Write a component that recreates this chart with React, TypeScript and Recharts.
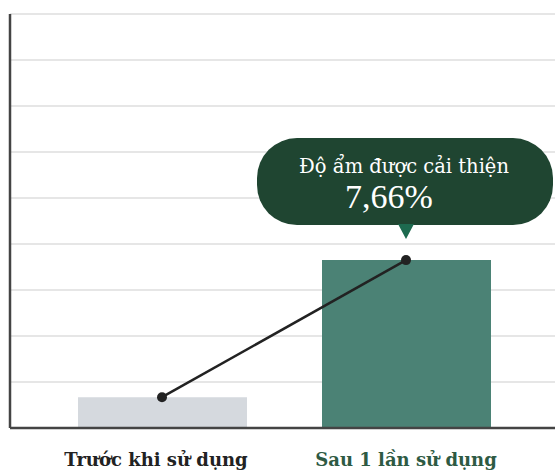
import React from "react";
import { ComposedChart, Bar, Line, XAxis, YAxis, CartesianGrid, Cell } from "recharts";

const categories = ["Trước khi sử dụng", "Sau 1 lần sử dụng"];
const barValues = [0.67, 3.65];
const lineValues = [0.67, 3.65];
const yTicks = [0, 1, 2, 3, 4, 5, 6, 7, 8];
const barColors = ["#d5d9de", "#4b8275"];
const labelColors = ["#222222", "#2e5a43"];
const labelShift = [-6, 0];
const calloutTitle = "Độ ẩm được cải thiện";
const calloutValue = "7,66%";

const data = categories.map((c, i) => ({ name: c, bar: barValues[i], line: lineValues[i] }));

const SERIF = "'DejaVu Serif', serif";
const SERIF2 = "'Liberation Serif', serif";

const Tick = (props: any) => {
  const { x, y, payload, index } = props;
  return (
    <text
      x={x + (labelShift[index] ?? 0)}
      y={y + 30}
      textAnchor="middle"
      fontFamily={SERIF}
      fontWeight={700}
      fontSize={18}
      fill={labelColors[index] ?? "#222"}
    >
      {payload.value}
    </text>
  );
};

const EmptyTick = () => <g />;

const Callout = (props: any) => {
  const { x, y, index } = props;
  if (index !== 1) return null;
  return (
    <g>
      <rect x={x - 149} y={y - 122} width={296} height={87} rx={40} ry={40} fill="#1f4531" />
      <path d={`M ${x - 8} ${y - 36} L ${x + 8} ${y - 36} L ${x} ${y - 21} Z`} fill="#1d6a4f" />
      <text x={x - 2} y={y - 87} textAnchor="middle" fontFamily={SERIF} fontSize={19.5} fill="#ffffff">
        {calloutTitle}
      </text>
      <text x={x - 17} y={y - 52} textAnchor="middle" fontFamily={SERIF2} fontSize={34} fill="#ffffff">
        {calloutValue}
      </text>
    </g>
  );
};

export default function App() {
  return (
    <div style={{ position: "absolute", left: 0, top: 0, width: 555, height: 470, background: "#fff" }}>
      <ComposedChart
        width={555}
        height={470}
        data={data}
        margin={{ top: 14, right: 0, bottom: 0, left: 9 }}
      >
        <CartesianGrid vertical={false} stroke="#e6e6e6" strokeWidth={2} />
        <XAxis
          dataKey="name"
          padding={{ left: 30, right: 27 }}
          axisLine={{ stroke: "#444", strokeWidth: 2.5 }}
          tickLine={false}
          tick={<Tick />}
          height={42}
          interval={0}
        />
        <YAxis
          width={1}
          domain={[0, 9]}
          ticks={yTicks}
          tick={<EmptyTick />}
          tickLine={false}
          axisLine={{ stroke: "#444", strokeWidth: 2.5 }}
        />
        <Bar dataKey="bar" barSize={169} isAnimationActive={false}>
          {data.map((d, i) => (
            <Cell key={i} fill={barColors[i]} />
          ))}
        </Bar>
        <Line
          dataKey="line"
          stroke="#222"
          strokeWidth={2.5}
          dot={{ r: 5, fill: "#222", stroke: "#222", strokeWidth: 0 }}
          isAnimationActive={false}
          label={<Callout />}
        />
      </ComposedChart>
    </div>
  );
}
